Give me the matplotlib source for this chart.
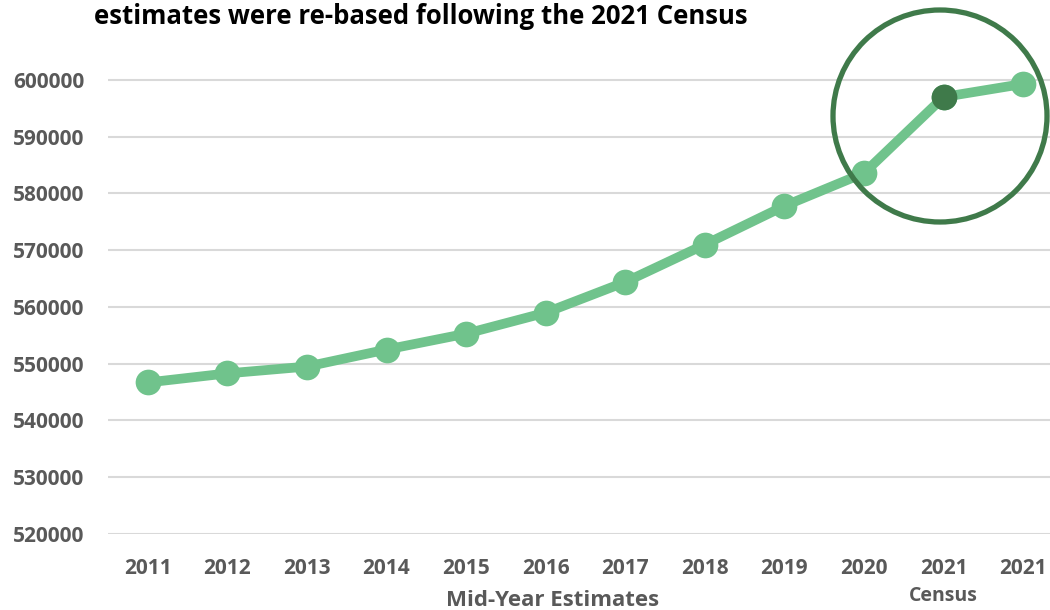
import matplotlib.pyplot as plt
from matplotlib.patches import Ellipse

# Data
years = ["2011", "2012", "2013", "2014", "2015", "2016", "2017",
         "2018", "2019", "2020", "2021", "2021"]
population = [546700, 548300, 549500, 552500, 555300, 559000, 564400,
              571000, 577800, 583600, 597000, 599300]
census_index = 10
yticks = [520000, 530000, 540000, 550000, 560000, 570000, 580000, 590000, 600000]

light_green = "#70c38c"
dark_green = "#3f7a4a"
grey = "#595959"

plt.rcParams['font.family'] = ['Open Sans', 'DejaVu Sans']

fig = plt.figure(figsize=(10.5, 6.1), dpi=100)
W, H = 1050, 610
ax = fig.add_axes([108 / W, 1 - 534 / H, (1063 - 108) / W, (534 - 23.2) / H])

x = list(range(len(years)))
ax.plot(x, population, color=light_green, linewidth=7, marker="o",
        markersize=18.5, markerfacecolor=light_green, markeredgewidth=0,
        solid_capstyle="round", zorder=3)
ax.plot([census_index], [population[census_index]], marker="o", markersize=18.5,
        color=dark_green, markeredgewidth=0, linestyle="none", zorder=4)

ax.set_xlim(-0.5, len(years) - 0.5)
ax.set_ylim(520000, 610000)
ax.set_yticks(yticks)
ax.set_yticklabels([str(v) for v in yticks])
ax.set_xticks(x)
ax.set_xticklabels(years)
ax.yaxis.grid(True, color="#d9d9d9", linewidth=1.5)
ax.set_axisbelow(True)
for s in ax.spines.values():
    s.set_visible(False)
ax.tick_params(axis="both", length=0, labelsize=15, labelcolor=grey)
ax.tick_params(axis="y", pad=17)
ax.tick_params(axis="x", pad=17)
for lab in ax.get_xticklabels() + ax.get_yticklabels():
    lab.set_fontweight("bold")

# highlight circle around the census re-base
circle = Ellipse((940 / W, 1 - 116 / H), 214 / W, 212 / H, transform=fig.transFigure,
                 fill=False, edgecolor=dark_green, linewidth=3.8, zorder=5)
fig.patches.append(circle)

fig.text(943 / W, 1 - 596 / H, "Census", ha="center", va="center",
         fontsize=14, fontweight="bold", color=grey)
fig.text(553 / W, 1 - 601 / H, "Mid-Year Estimates", ha="center", va="center",
         fontsize=16, fontweight="bold", color=grey)
fig.text(421 / W, 1 - 17 / H, "estimates were re-based following the 2021 Census",
         ha="center", va="center", fontsize=18.5, fontweight="bold", color="black")

fig.savefig("out.png", dpi=100)
